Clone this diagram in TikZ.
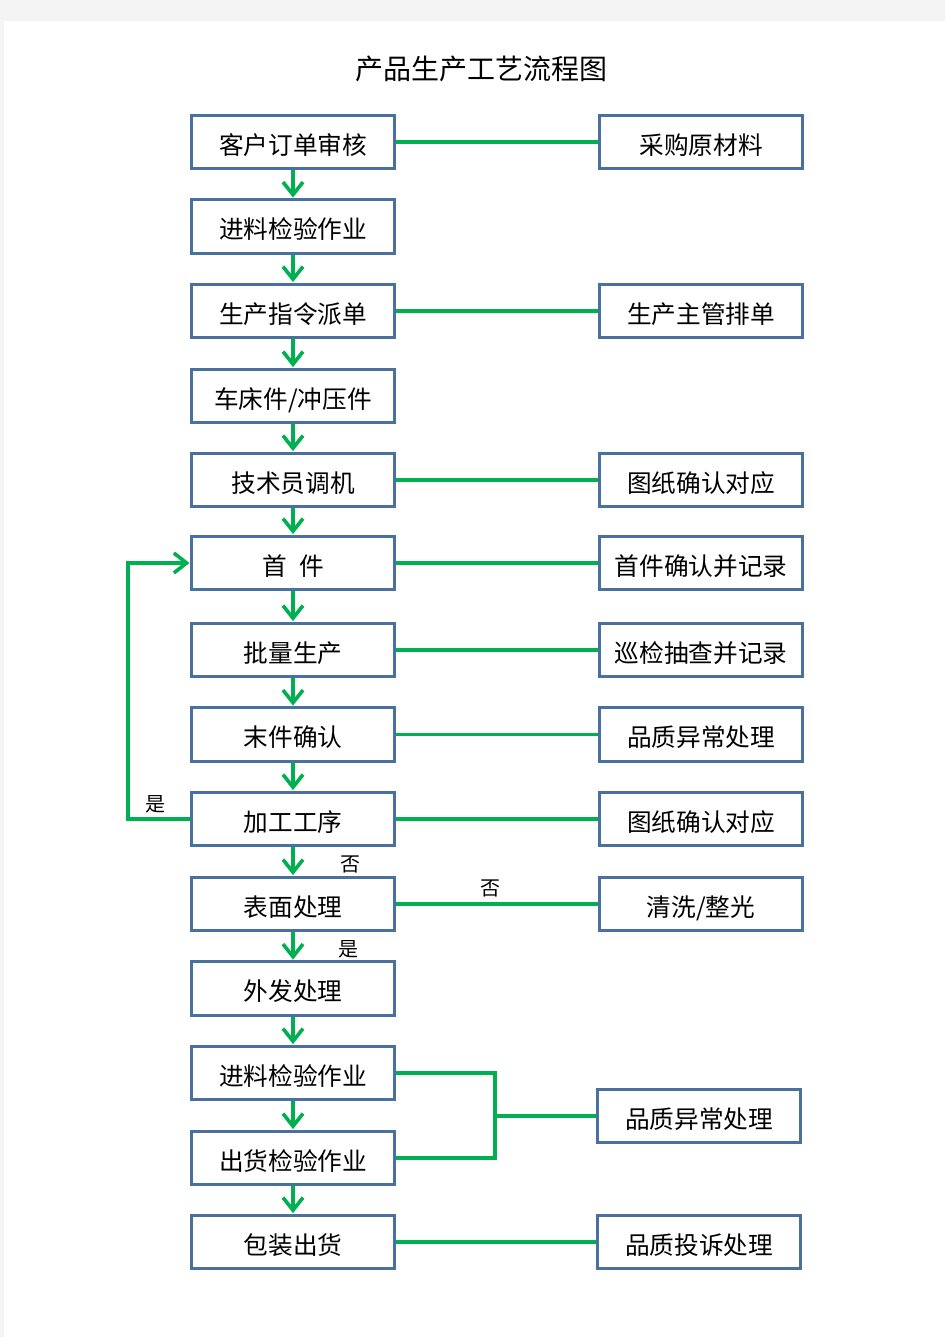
\documentclass[tikz,border=0pt]{standalone}
\usepackage{fontspec}
\setmainfont{Noto Sans CJK SC}
\usepackage{tikz}
\usetikzlibrary{arrows.meta}
\definecolor{boxblue}{RGB}{74,112,158}
\definecolor{linegreen}{RGB}{0,176,80}
\definecolor{pagegray}{RGB}{244,244,244}

\begin{document}
\begin{tikzpicture}[x=0.75pt,y=0.75pt,yscale=-1,xscale=1,
  stepbox/.style={draw=boxblue,line width=2.3pt,fill=white,minimum width=152pt,minimum height=40pt,inner sep=0pt,text height=19pt,text depth=0.5pt,font=\fontsize{18.5}{22}\selectfont},
  link/.style={draw=linegreen,line width=2.7pt},
  flowarrow/.style={link,-{Straight Barb[length=9.5pt,width=15pt]},shorten >=0.5pt},
  note/.style={inner sep=0pt,font=\fontsize{15}{18}\selectfont}]
%set diagram left start at 0, and has height of 1337
\fill[pagegray] (0,0) rectangle (945,1337);
\fill[white] (4,21) rectangle (945,1337);

% Text Node
\node[font=\fontsize{21}{25}\selectfont] (title) at (481,69) {产品生产工艺流程图};

%Shape: Rectangle (main column)
\node[stepbox] (order) at (293,142) {客户订单审核};
\node[stepbox] (incoming) at (293,226.5) {进料检验作业};
\node[stepbox] (dispatch) at (293,311) {生产指令派单};
\node[stepbox] (lathe) at (293,396) {车床件/冲压件};
\node[stepbox] (setup) at (293,480) {技术员调机};
\node[stepbox] (first) at (293,563) {首\enskip 件};
\node[stepbox] (batch) at (293,650) {批量生产};
\node[stepbox] (last) at (293,734.5) {末件确认};
\node[stepbox] (process) at (293,819) {加工工序};
\node[stepbox] (surface) at (293,904) {表面处理};
\node[stepbox] (outsource) at (293,988.5) {外发处理};
\node[stepbox] (incomingb) at (293,1073) {进料检验作业};
\node[stepbox] (outgoing) at (293,1158) {出货检验作业};
\node[stepbox] (pack) at (293,1242) {包装出货};

%Shape: Rectangle (side column)
\node[stepbox] (purchase) at (701,142) {采购原材料};
\node[stepbox] (schedule) at (701,311) {生产主管排单};
\node[stepbox] (drawing) at (701,480) {图纸确认对应};
\node[stepbox] (firstrec) at (701,563) {首件确认并记录};
\node[stepbox] (patrol) at (701,650) {巡检抽查并记录};
\node[stepbox] (quality) at (701,734.5) {品质异常处理};
\node[stepbox] (drawingb) at (701,819) {图纸确认对应};
\node[stepbox] (clean) at (701,904) {清洗/整光};
\node[stepbox] (qualityb) at (699,1116) {品质异常处理};
\node[stepbox] (complaint) at (699,1242) {品质投诉处理};

%Straight Lines (flow arrows)
\draw[flowarrow] (order) -- (incoming);
\draw[flowarrow] (incoming) -- (dispatch);
\draw[flowarrow] (dispatch) -- (lathe);
\draw[flowarrow] (lathe) -- (setup);
\draw[flowarrow] (setup) -- (first);
\draw[flowarrow] (first) -- (batch);
\draw[flowarrow] (batch) -- (last);
\draw[flowarrow] (last) -- (process);
\draw[flowarrow] (process) -- (surface);
\draw[flowarrow] (surface) -- (outsource);
\draw[flowarrow] (outsource) -- (incomingb);
\draw[flowarrow] (incomingb) -- (outgoing);
\draw[flowarrow] (outgoing) -- (pack);

%Straight Lines (side links)
\draw[link] (order) -- (purchase);
\draw[link] (dispatch) -- (schedule);
\draw[link] (setup) -- (drawing);
\draw[link] (first) -- (firstrec);
\draw[link] (batch) -- (patrol);
\draw[link] (last) -- (quality);
\draw[link] (process) -- (drawingb);
\draw[link] (surface) -- (clean);
\draw[link] (pack) -- (complaint);

%Straight Lines (inspection join)
\coordinate (join) at (495,1116);
\draw[link] (incomingb.east) -| (join) |- (outgoing.east);
\draw[link] (join) -- (qualityb);

%Straight Lines (rework loop)
\coordinate (loop) at (128,819);
\draw[flowarrow] (process.west) -- (loop) |- (first.west);

% Text Node
\node[note] (yesloop) at (155,804) {是};
\node[note] (nodown) at (350,864) {否};
\node[note] (noside) at (490,888) {否};
\node[note] (yesdown) at (348,949) {是};

\end{tikzpicture}
\end{document}
